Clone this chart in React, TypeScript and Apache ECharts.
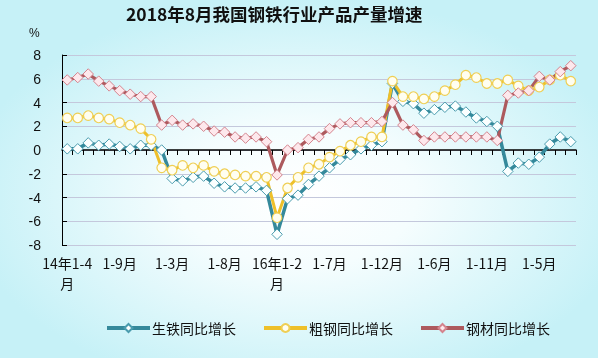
import React, { useEffect, useRef } from "react";
import * as echarts from "echarts";

const titleText = "2018年8月我国钢铁行业产品产量增速";
const unitText = "%";

const categories = [
  "14年1-4月", "1-5月", "1-6月", "1-7月", "1-8月", "1-9月", "1-10月", "1-11月", "1-12月",
  "15年1-2月", "1-3月", "1-4月", "1-5月", "1-6月", "1-7月", "1-8月", "1-9月", "1-10月", "1-11月", "1-12月",
  "16年1-2月", "1-3月", "1-4月", "1-5月", "1-6月", "1-7月", "1-8月", "1-9月", "1-10月", "1-11月", "1-12月",
  "17年1-2月", "1-3月", "1-4月", "1-5月", "1-6月", "1-7月", "1-8月", "1-9月", "1-10月", "1-11月", "1-12月",
  "18年1-2月", "1-3月", "1-4月", "1-5月", "1-6月", "1-7月", "1-8月",
];

const seriesNames = ["生铁同比增长", "粗钢同比增长", "钢材同比增长"];

const pigIron = [
  0.1, 0.1, 0.6, 0.4, 0.5, 0.3, 0.1, 0.4, 0.4, 0.0,
  -2.4, -2.6, -2.3, -2.2, -2.8, -3.1, -3.2, -3.2, -3.1, -3.4,
  -7.1, -4.1, -3.8, -2.9, -2.2, -1.5, -0.8, -0.4, 0.1, 0.4,
  0.7, 5.6, 4.1, 3.9, 3.1, 3.4, 3.6, 3.7, 3.2, 2.7,
  2.4, 2.0, -1.8, -1.1, -1.2, -0.6, 0.5, 1.1, 0.7,
];

const crudeSteel = [
  2.7, 2.7, 2.9, 2.7, 2.6, 2.3, 2.1, 1.8, 0.9, -1.5,
  -1.7, -1.3, -1.5, -1.3, -1.8, -2.0, -2.1, -2.2, -2.2, -2.3,
  -5.7, -3.2, -2.3, -1.5, -1.2, -0.6, -0.1, 0.4, 0.7, 1.1,
  1.1, 5.8, 4.5, 4.5, 4.3, 4.5, 5.0, 5.5, 6.3, 6.1,
  5.6, 5.6, 5.9, 5.4, 5.0, 5.3, 5.9, 6.3, 5.8,
];

const steelProducts = [
  5.9, 6.1, 6.4, 5.8, 5.4, 5.0, 4.7, 4.5, 4.5, 2.1,
  2.5, 2.1, 2.2, 2.0, 1.6, 1.5, 1.1, 1.0, 1.1, 0.7,
  -2.1, 0.0, 0.2, 0.9, 1.1, 1.8, 2.2, 2.3, 2.3, 2.3,
  2.4, 4.0, 2.1, 1.7, 0.8, 1.1, 1.1, 1.1, 1.1, 1.1,
  1.1, 0.8, 4.6, 4.8, 5.0, 6.2, 5.9, 6.6, 7.1,
];

const yMin = -8;
const yMax = 8;
const yInterval = 2;

const CJK = "'Noto Sans CJK SC', 'Noto Sans', sans-serif";

export default function App() {
  const ref = useRef<HTMLDivElement>(null);

  useEffect(() => {
    if (!ref.current) return;
    const chart = echarts.init(ref.current, null, { renderer: "svg" });
    const option = {
      animation: false,
      backgroundColor: {
        type: "radial",
        x: 0.5,
        y: 0.55,
        r: 0.56,
        colorStops: [
          { offset: 0, color: "#ffffff" },
          { offset: 0.35, color: "#f5fdfe" },
          { offset: 1, color: "#c6f1f7" },
        ],
      },
      title: {
        text: titleText,
        left: 126,
        top: 5,
        padding: 0,
        textStyle: { fontSize: 17.5, fontWeight: "bold", fontFamily: CJK, color: "#111" },
      },
      graphic: [
        {
          type: "text",
          left: 29,
          top: 27,
          style: { text: unitText, fontSize: 12, fontFamily: "'Liberation Sans', sans-serif", fill: "#111" },
        },
      ],
      legend: {
        left: 105,
        top: 321,
        padding: 0,
        itemWidth: 43,
        itemHeight: 10,
        itemGap: 26,
        data: seriesNames,
        lineStyle: { width: 4 },
        textStyle: { fontSize: 14, fontFamily: CJK, color: "#111", padding: [0, 0, 0, -3] },
      },
      grid: { left: 62, right: 22, top: 55, bottom: 113, containLabel: false },
      xAxis: [
        {
          type: "category",
          data: categories,
          boundaryGap: true,
          position: "bottom",
          axisLine: { show: true, onZero: true, lineStyle: { color: "#000", width: 1.5 } },
          axisTick: { show: true, interval: 0, length: 5, lineStyle: { color: "#000", width: 1 } },
          axisLabel: { show: false },
          splitLine: { show: false },
        },
        {
          type: "category",
          data: categories,
          boundaryGap: true,
          position: "bottom",
          axisLine: { show: false, onZero: false },
          axisTick: { show: false },
          axisLabel: {
            show: true,
            interval: 4,
            margin: 8,
            fontSize: 14,
            lineHeight: 20,
            fontFamily: CJK,
            color: "#111",
            formatter: (v: string) => (v.indexOf("年") >= 0 ? v.replace(/月$/, "\n月") : v),
          },
          splitLine: { show: false },
        },
      ],
      yAxis: {
        type: "value",
        min: yMin,
        max: yMax,
        interval: yInterval,
        axisLine: { show: true, lineStyle: { color: "#000", width: 1 } },
        axisTick: { show: true, inside: true, length: 5, lineStyle: { color: "#000" } },
        axisLabel: { margin: 21, fontSize: 14, fontFamily: "'Liberation Sans', sans-serif", color: "#111" },
        splitLine: { show: true, lineStyle: { color: "#c4c8dc", width: 1 } },
      },
      series: [
        {
          name: seriesNames[0],
          type: "line",
          xAxisIndex: 0,
          data: pigIron,
          symbol: "diamond",
          symbolSize: 10.5,
          showAllSymbol: true,
          lineStyle: { color: "#35899b", width: 3.5 },
          itemStyle: { color: "#fbffff", borderColor: "#4a9cae", borderWidth: 1 },
          emphasis: { disabled: true },
        },
        {
          name: seriesNames[1],
          type: "line",
          xAxisIndex: 0,
          data: crudeSteel,
          symbol: "circle",
          symbolSize: 9.5,
          showAllSymbol: true,
          lineStyle: { color: "#eec02a", width: 3 },
          itemStyle: { color: "#fffef0", borderColor: "#efcf55", borderWidth: 1.2 },
          emphasis: { disabled: true },
        },
        {
          name: seriesNames[2],
          type: "line",
          xAxisIndex: 0,
          data: steelProducts,
          symbol: "diamond",
          symbolSize: 10.5,
          showAllSymbol: true,
          lineStyle: { color: "#ad5a5e", width: 3.2 },
          itemStyle: { color: "#fde8ec", borderColor: "#d4848e", borderWidth: 1 },
          emphasis: { disabled: true },
        },
      ],
    };
    chart.setOption(option as any);
    return () => chart.dispose();
  }, []);

  return (
    <div
      ref={ref}
      style={{ position: "fixed", left: 0, top: 0, width: 598, height: 358 }}
    />
  );
}
